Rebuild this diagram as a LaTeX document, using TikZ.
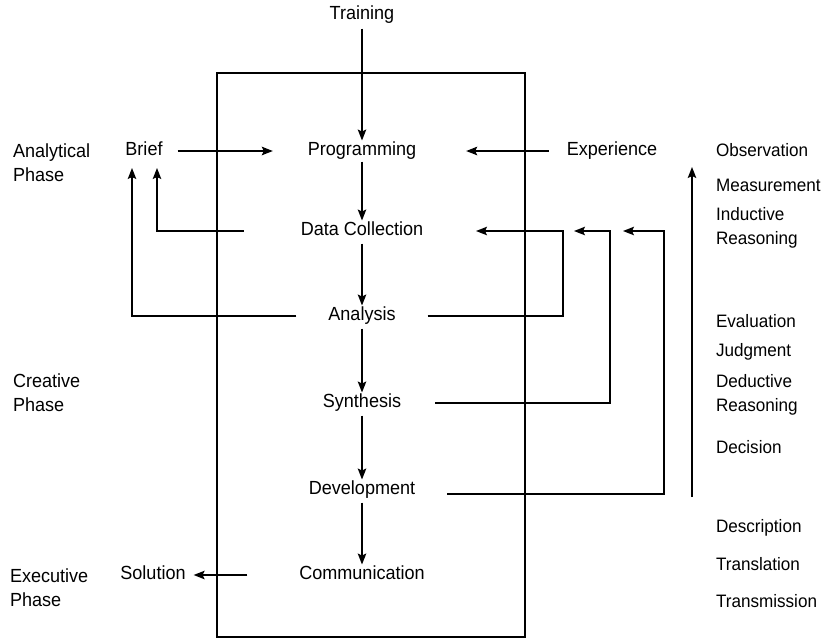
\documentclass[tikz,border=0pt]{standalone}
\usepackage{fontspec}
\setmainfont{Liberation Sans}[FakeStretch=0.95]
\usetikzlibrary{arrows.meta}
\begin{document}
\begin{tikzpicture}[x=1pt,y=-1pt,
  every node/.style={inner sep=0pt, outer sep=0pt},
  stage/.style={font=\fontsize{19}{24}\selectfont, text height=13pt, text depth=4pt, inner sep=2pt},
  side/.style={font=\fontsize{19}{24}\selectfont, align=left, anchor=west},
  term/.style={font=\fontsize{18}{24}\selectfont, align=left, anchor=west},
  link/.style={line width=1.6pt},
  arr/.style={link, -{Stealth[length=11pt,width=8.5pt,inset=2pt]}}]
  % page
  \useasboundingbox (0,0) rectangle (829,641);
  \fill[white] (0,0) rectangle (829,641);

  % process frame
  \draw[line width=1.5pt] (217,73) rectangle (525,637);

  % process stages, stacked on one axis
  \node[stage] (train) at (362,15) {Training};
  \node[stage] (prog)  at (362,151) {Programming};
  \node[stage] (dc)    at (362,231) {Data Collection};
  \node[stage] (an)    at (362,316) {Analysis};
  \node[stage] (syn)   at (362,403) {Synthesis};
  \node[stage] (dev)   at (362,490) {Development};
  \node[stage] (comm)  at (362,575) {Communication};

  \node[stage] (brief) at (144,151) {Brief};
  \node[stage] (exp)   at (612,151) {Experience};
  \node[stage] (sol)   at (153,575) {Solution};

  % phases
  \node[side] (ph1) at (13,163) {Analytical\\Phase};
  \node[side] (ph2) at (13,393) {Creative\\Phase};
  \node[side] (ph3) at (10,588) {Executive\\Phase};

  % activities
  \node[term] (o1) at (716,150) {Observation};
  \node[term] (o2) at (716,185) {Measurement};
  \node[term] (o3) at (716,228) {Inductive\\Reasoning};
  \node[term] (e1) at (716,321) {Evaluation};
  \node[term] (e2) at (716,352) {Judgment};
  \node[term] (e3) at (716,395) {Deductive\\Reasoning};
  \node[term] (e4) at (716,447) {Decision};
  \node[term] (d1) at (716,528) {Description};
  \node[term] (d2) at (716,564) {Translation};
  \node[term] (d3) at (716,601) {Transmission};

  % main sequence
  \draw[arr, shorten <=3pt] (train) -- (prog);
  \draw[arr] (prog) -- (dc);
  \draw[arr, shorten <=2pt] (dc) -- (an);
  \draw[arr, shorten <=2pt] (an) -- (syn);
  \draw[arr, shorten <=2pt] (syn) -- (dev);
  \draw[arr, shorten <=2pt] (dev) -- (comm);

  % inputs and output
  \draw[arr, shorten <=13pt, shorten >=33pt] (brief) -- (prog);
  \draw[arr, shorten <=16pt, shorten >=48pt] (exp) -- (prog);
  \draw[arr, shorten <=50pt, shorten >=6pt] (comm) -- (sol);

  % feedback to the brief
  \coordinate (bl) at (132,168);
  \coordinate (br) at (157,168);
  \draw[arr] ([xshift=-55pt]dc.west) -| (br);
  \draw[arr] ([xshift=-30pt]an.west) -| (bl);

  % feedback to data collection
  \coordinate (t1) at (476,231);
  \coordinate (t2) at (574,231);
  \coordinate (t3) at (623,231);
  \coordinate (c1) at (563,231);
  \coordinate (c2) at (610,231);
  \coordinate (c3) at (664,231);
  \draw[arr] ([xshift=30pt]an.east) -| (c1) -- (t1);
  \draw[arr] ([xshift=32pt]syn.east) -| (c2) -- (t2);
  \draw[arr] ([xshift=30pt,yshift=-4pt]dev.east) -| (c3) -- (t3);

  % overall direction of the activities
  \coordinate (up0) at (692,497);
  \coordinate (up1) at (692,167);
  \draw[arr] (up0) -- (up1);
\end{tikzpicture}
\end{document}
